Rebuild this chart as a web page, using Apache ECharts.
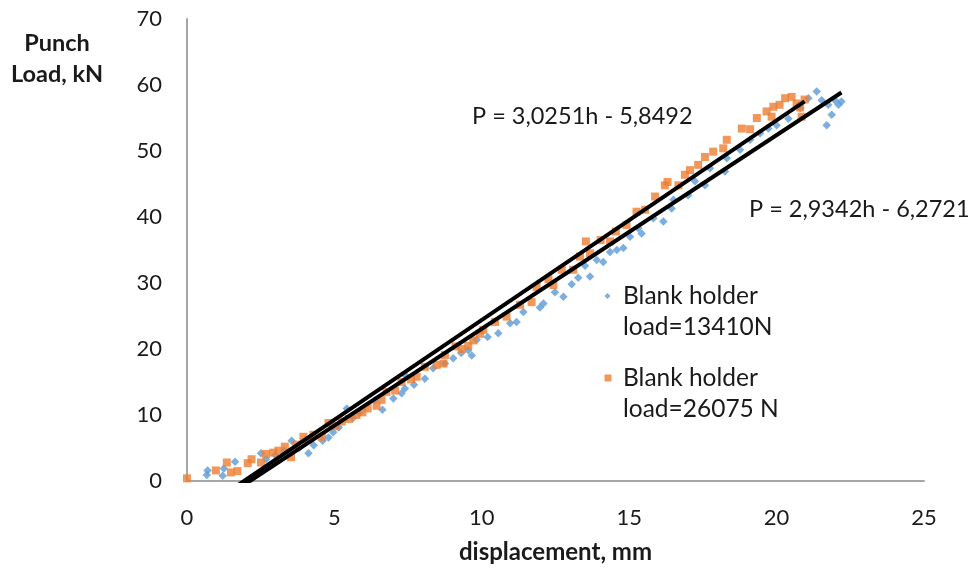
<!DOCTYPE html>
<html>
<head>
<meta charset="utf-8">
<script src="https://cdn.jsdelivr.net/npm/echarts@6/dist/echarts.min.js"></script>
<style>
  html, body { margin: 0; padding: 0; background: #fff; }
  #chart { width: 972px; height: 572px; }
</style>
</head>
<body>
<div id="chart"></div>
<script>
// Punch load vs displacement for two blank holder loads
const seriesNames = ['Blank holder\nload=13410N', 'Blank holder\nload=26075 N'];
const xTicks = [0, 5, 10, 15, 20, 25];
const yTicks = [0, 10, 20, 30, 40, 50, 60, 70];

// measured points [displacement mm, load kN]
const load13410 = [
  [0.67, 0.9], [0.7, 1.6], [1.21, 0.8], [1.25, 1.9], [1.63, 2.9], [2.51, 4.2],
  [2.68, 3.3], [3.0, 3.9], [3.3, 4.6], [3.55, 6.1], [3.8, 5.0], [4.12, 4.2],
  [4.3, 5.4], [4.6, 6.1], [4.8, 6.6], [4.96, 7.4], [5.15, 8.1], [5.42, 11.0],
  [5.64, 9.6], [5.85, 10.3], [6.38, 12.2], [6.63, 10.8], [7.0, 12.5], [7.28, 13.3],
  [7.39, 14.0], [7.39, 16.1], [7.7, 14.6], [8.07, 15.5], [8.35, 17.1], [8.75, 17.8],
  [9.03, 18.6], [9.3, 19.4], [9.54, 19.8], [9.66, 19.0], [9.83, 21.4], [10.2, 21.8],
  [10.56, 22.4], [10.96, 23.9], [11.18, 24.1], [11.41, 25.6], [11.97, 26.3], [12.09, 26.9],
  [12.48, 28.6], [12.77, 27.9], [13.05, 29.8], [13.27, 30.8], [13.5, 32.6], [13.67, 31.0],
  [13.9, 33.5], [14.12, 33.2], [14.35, 34.7], [14.58, 35.0], [14.8, 35.3], [15.03, 37.0],
  [15.31, 38.3], [15.42, 37.5], [15.82, 39.8], [16.16, 39.3], [16.44, 41.3], [16.5, 42.6],
  [17.0, 43.3], [17.23, 45.4], [17.57, 44.8], [17.74, 47.4], [18.25, 46.9], [18.31, 48.9],
  [18.76, 50.2], [19.1, 51.7], [19.44, 52.7], [19.72, 53.4], [20.0, 53.9], [20.4, 54.9],
  [20.8, 56.5], [21.08, 58.0], [21.36, 59.0], [21.53, 57.7], [21.7, 53.9], [21.75, 57.0],
  [21.87, 55.5], [21.98, 57.7], [22.1, 57.0], [22.2, 57.5]
];
const load26075 = [
  [0, 0.4], [0.98, 1.6], [1.35, 2.8], [1.49, 1.3], [1.71, 1.5], [2.06, 2.7],
  [2.19, 3.3], [2.51, 2.8], [2.68, 4.1], [2.93, 4.3], [3.1, 4.6], [3.32, 5.2],
  [3.53, 3.6], [3.7, 5.5], [3.95, 6.7], [4.12, 6.2], [4.29, 7.0], [4.57, 6.7],
  [4.8, 8.8], [5.05, 8.3], [5.25, 9.0], [5.5, 9.4], [5.75, 10.0], [5.95, 10.4],
  [6.13, 11.0], [6.43, 11.4], [6.6, 12.3], [6.77, 13.5], [7.06, 13.7], [7.28, 15.0],
  [7.6, 15.4], [7.79, 15.8], [8.07, 17.3], [8.47, 17.6], [8.7, 17.8], [8.75, 19.1],
  [9.11, 20.4], [9.32, 20.0], [9.54, 20.5], [9.71, 21.3], [9.94, 22.3], [10.05, 22.9],
  [10.45, 24.1], [10.84, 24.9], [11.3, 26.7], [11.69, 27.1], [11.86, 29.4], [12.26, 30.6],
  [12.43, 29.7], [12.71, 32.0], [13.1, 32.0], [13.33, 34.0], [13.53, 36.3], [13.67, 34.5],
  [14.03, 36.5], [14.35, 36.3], [14.55, 37.8], [14.91, 38.8], [15.25, 40.8], [15.54, 41.1],
  [15.88, 43.1], [16.21, 44.8], [16.3, 45.3], [16.67, 44.8], [16.89, 46.4], [17.06, 47.1],
  [17.34, 47.9], [17.57, 49.1], [17.85, 49.9], [18.19, 50.4], [18.31, 51.7], [18.82, 53.4],
  [19.1, 53.3], [19.33, 55.0], [19.66, 56.0], [19.83, 55.2], [19.89, 56.7], [20.1, 57.0],
  [20.29, 58.0], [20.51, 58.2], [20.68, 57.2], [20.8, 56.6], [20.85, 55.2], [20.95, 57.8]
];

// linear trend coefficients P = a*h + b
const fit13410 = { a: 2.9342, b: -6.2721 };
const fit26075 = { a: 3.0251, b: -5.8492 };

function trendLine(fit, pts) {
  const xMax = Math.max(...pts.map(p => p[0]));
  return [[0, fit.b], [xMax, fit.a * xMax + fit.b]];
}
function fmt(v) { return Math.abs(v).toFixed(4).replace('.', ','); }
function eqText(fit) {
  return 'P = ' + fmt(fit.a) + 'h ' + (fit.b < 0 ? '- ' : '+ ') + fmt(fit.b);
}

const FONT = 'Lato';
const TXT = '#1a1a1a';

// legend icons: marker sits level with the first text line, box padded to the item size
const ICON_DIAMOND = 'path://M3.5,12.5 L6.5,15.5 L3.5,18.5 L0.5,15.5 Z M0,0 L0,0 M14,62 L14,62';
const ICON_SQUARE = 'path://M0.5,12 L7.5,12 L7.5,19 L0.5,19 Z M0,0 L0,0 M14,62 L14,62';

const chart = echarts.init(document.getElementById('chart'), null, { renderer: 'canvas' });

const legendCommon = {
  orient: 'vertical',
  left: 599,
  itemWidth: 14,
  itemHeight: 62,
  itemGap: 0,
  textStyle: { fontFamily: FONT, fontSize: 24.5, color: TXT, lineHeight: 31 }
};

chart.setOption({
  animation: false,
  backgroundColor: '#ffffff',
  grid: { left: 187, right: 48, top: 19, bottom: 91, outerBoundsMode: 'none', containLabel: false },
  legend: [
    Object.assign({}, legendCommon, { top: 275.5, data: [{ name: seriesNames[0], icon: ICON_DIAMOND }] }),
    Object.assign({}, legendCommon, { top: 357.5, data: [{ name: seriesNames[1], icon: ICON_SQUARE }] })
  ],
  xAxis: {
    type: 'value', min: xTicks[0], max: xTicks[xTicks.length - 1], interval: 5,
    name: 'displacement, mm', nameLocation: 'middle', nameGap: 59, nameMoveOverlap: false,
    nameTextStyle: { fontFamily: FONT, fontSize: 24, fontWeight: 'bold', color: TXT },
    axisLine: { lineStyle: { color: '#a6a6a6', width: 2 } },
    axisTick: { show: false },
    splitLine: { show: false },
    axisLabel: { fontFamily: FONT, fontSize: 22, color: TXT, margin: 26 }
  },
  yAxis: {
    type: 'value', min: yTicks[0], max: yTicks[yTicks.length - 1], interval: 10,
    name: 'Punch\nLoad, kN', nameLocation: 'end', nameGap: -39.5, nameMoveOverlap: false,
    nameTextStyle: {
      fontFamily: FONT, fontSize: 23.5, fontWeight: 'bold', color: TXT,
      align: 'center', verticalAlign: 'middle', lineHeight: 31, padding: [0, 260, 0, 0]
    },
    axisLine: { show: true, lineStyle: { color: '#a6a6a6', width: 2 } },
    axisTick: { show: false },
    splitLine: { show: false },
    axisLabel: { fontFamily: FONT, fontSize: 22, color: TXT, margin: 25 }
  },
  series: [
    {
      name: seriesNames[0], type: 'scatter', data: load13410,
      symbol: 'diamond', symbolSize: 8.5, itemStyle: { color: '#5B9BD5' }, z: 2
    },
    {
      name: seriesNames[1], type: 'scatter', data: load26075,
      symbol: 'rect', symbolSize: 8, itemStyle: { color: '#ED7D31' }, z: 3
    },
    {
      name: 'trend13410', type: 'line', data: trendLine(fit13410, load13410),
      showSymbol: false, clip: true, lineStyle: { color: '#000', width: 4 }, z: 5
    },
    {
      name: 'trend26075', type: 'line', data: trendLine(fit26075, load26075),
      showSymbol: false, clip: true, lineStyle: { color: '#000', width: 4 }, z: 5
    }
  ],
  graphic: [
    { type: 'text', left: 472, top: 104, style: { text: eqText(fit26075), font: '23.5px ' + FONT, fill: TXT } },
    { type: 'text', left: 749, top: 197, style: { text: eqText(fit13410), font: '23.5px ' + FONT, fill: TXT } }
  ]
});
</script>
</body>
</html>
